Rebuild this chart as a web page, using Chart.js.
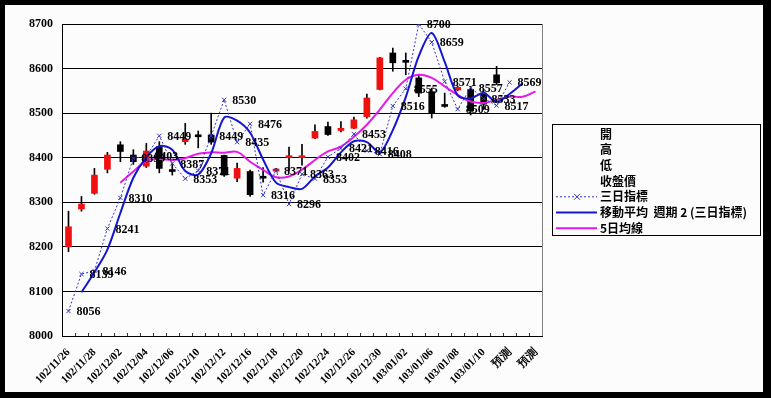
<!DOCTYPE html>
<html>
<head>
    <title>K線圖</title>
    <script src="https://cdn.jsdelivr.net/npm/chart.js"></script>
    <style>
        html, body { margin: 0; padding: 0; background: #000; }
        canvas { display: block; }
    </style>
</head>
<body>
    <canvas id="kChart" width="771" height="398"></canvas>

    <script>
        // dates (last three are forecast slots)
        const labels = ['102/11/26','102/11/27','102/11/28','102/11/29','102/12/02','102/12/03','102/12/04',
            '102/12/05','102/12/06','102/12/09','102/12/10','102/12/11','102/12/12','102/12/13','102/12/16',
            '102/12/17','102/12/18','102/12/19','102/12/20','102/12/23','102/12/24','102/12/25','102/12/26',
            '102/12/27','102/12/30','102/12/31','103/01/02','103/01/03','103/01/06','103/01/07','103/01/08',
            '103/01/09','103/01/10','103/01/13','預測','預測','預測'];

        const opens  = [8200,8285,8320,8374,8429,8406,8381,8425,8372,8436,8450,8451,8405,8354,8369,8356,8370,8400,8400,8444,8470,8461,8466,8492,8553,8635,8618,8579,8548,8516,8552,8553,8545,8586,null,null,null];
        const highs  = [8280,8313,8376,8412,8436,8418,8432,8436,8388,8477,8460,8500,8406,8388,8372,8378,8376,8424,8430,8474,8480,8481,8491,8543,8625,8646,8635,8586,8556,8545,8561,8560,8553,8605,null,null,null];
        const lows   = [8189,8280,8318,8366,8391,8385,8378,8366,8361,8430,8422,8430,8358,8346,8313,8345,8368,8370,8383,8443,8450,8458,8465,8489,8552,8594,8586,8537,8489,8513,8550,8496,8508,8564,null,null,null];
        const closes = [8245,8296,8361,8406,8414,8391,8415,8376,8369,8442,8447,8435,8361,8376,8317,8354,8372,8404,8404,8459,8452,8466,8485,8534,8624,8613,8614,8545,8500,8515,8558,8505,8520,8568,null,null,null];

        // 三日指標
        const indicator = [8056,8139,8146,8241,8310,8399,8403,8449,8387,8353,8371,8449,8530,8435,8476,8316,8371,8296,8363,8353,8402,8421,8453,8416,8408,8516,8555,8700,8659,8571,8509,8557,8533,8517,8569,null,null];
        // 移動平均 週期 2 (三日指標)
        const movingAvg = [null,8098,8143,8194,8276,8355,8401,8426,8418,8370,8362,8410,8490,8483,8456,8396,8344,8334,8330,8358,8378,8412,8437,8435,8412,8462,8536,8628,8680,8615,8540,8533,8545,8525,8543,8567,null];
        // 5日均線
        const ma5 = [null,null,null,null,8344,8369,8393,8397,8395,8399,8409,8412,8411,8413,8391,8373,8356,8358,8373,8395,8414,8425,8447,8474,8508,8545,8575,8586,8579,8560,8541,8526,8523,8530,8537,8537,8549];

        const legendItems = ['開', '高', '低', '收盤價', '三日指標', '移動平均  週期 2 (三日指標)', '5日均線'];

        const numFont = 'bold 12px "Liberation Serif", serif';
        const cjkFont = 'bold 12px "Noto Sans CJK TC", sans-serif';

        const bodyColors = opens.map((o, i) => closes[i] >= o ? '#f01010' : '#000000');

        const framePlugin = {
            id: 'frame',
            beforeDraw(chart) {
                const ctx = chart.ctx;
                ctx.save();
                ctx.fillStyle = '#000';
                ctx.fillRect(0, 0, chart.width, chart.height);
                ctx.fillStyle = '#fcfcfc';
                ctx.fillRect(5, 5, 758, 387);
                ctx.restore();
            },
            afterDraw(chart) {
                const ctx = chart.ctx;
                const area = chart.chartArea;
                const xs = chart.scales.x;
                ctx.save();
                // right edge of plot
                ctx.strokeStyle = '#808080';
                ctx.lineWidth = 1;
                ctx.beginPath();
                ctx.moveTo(Math.round(area.right) + 0.5, area.top);
                ctx.lineTo(Math.round(area.right) + 0.5, area.bottom);
                ctx.stroke();
                // inside tick marks between categories
                ctx.strokeStyle = '#333';
                const step = (area.right - area.left) / labels.length;
                for (let i = 1; i < labels.length; i++) {
                    const px = Math.round(xs.getPixelForValue(i) - step / 2) + 0.5;
                    ctx.beginPath();
                    ctx.moveTo(px, area.bottom);
                    ctx.lineTo(px, area.bottom - 3);
                    ctx.stroke();
                }

                // value labels next to the × points
                const meta = chart.getDatasetMeta(0);
                ctx.font = numFont;
                ctx.fillStyle = '#000';
                ctx.textBaseline = 'middle';
                ctx.textAlign = 'left';
                meta.data.forEach((pt, i) => {
                    if (indicator[i] == null) return;
                    ctx.fillText(String(indicator[i]), pt.x + 8, pt.y + 1);
                });

                // legend box
                const lx = 552.5, ly = 124.5, lw = 208, lh = 111;
                ctx.fillStyle = '#fcfcfc';
                ctx.fillRect(lx, ly, lw, lh);
                ctx.strokeStyle = '#000';
                ctx.lineWidth = 1;
                ctx.strokeRect(lx, ly, lw, lh);
                ctx.font = cjkFont;
                ctx.fillStyle = '#000';
                legendItems.forEach((txt, i) => {
                    const ty = 134 + i * 15.7;
                    ctx.fillText(txt, 600, ty);
                });
                // line samples
                let ty = 134 + 4 * 15.7;
                ctx.strokeStyle = '#3535c8';
                ctx.setLineDash([2, 2]);
                ctx.beginPath(); ctx.moveTo(556, ty); ctx.lineTo(597, ty); ctx.stroke();
                ctx.setLineDash([]);
                ctx.beginPath();
                ctx.moveTo(574, ty - 3); ctx.lineTo(580, ty + 3);
                ctx.moveTo(580, ty - 3); ctx.lineTo(574, ty + 3);
                ctx.stroke();
                ty = 134 + 5 * 15.7;
                ctx.strokeStyle = '#1515d0';
                ctx.lineWidth = 2;
                ctx.beginPath(); ctx.moveTo(556, ty); ctx.lineTo(597, ty); ctx.stroke();
                ty = 134 + 6 * 15.7;
                ctx.strokeStyle = '#e619e6';
                ctx.beginPath(); ctx.moveTo(556, ty); ctx.lineTo(597, ty); ctx.stroke();
                ctx.restore();
            }
        };

        const ctx = document.getElementById('kChart').getContext('2d');
        new Chart(ctx, {
            data: {
                labels: labels,
                datasets: [{
                    type: 'line',
                    label: '三日指標',
                    data: indicator,
                    borderColor: '#3535c8',
                    borderWidth: 1,
                    borderDash: [2, 2],
                    pointStyle: 'crossRot',
                    pointRadius: 3,
                    pointBorderColor: '#3535c8',
                    pointBorderWidth: 1,
                    tension: 0,
                    fill: false
                }, {
                    type: 'line',
                    label: '移動平均 週期 2 (三日指標)',
                    data: movingAvg,
                    borderColor: '#1515d0',
                    borderWidth: 2,
                    pointRadius: 0,
                    tension: 0.3,
                    fill: false
                }, {
                    type: 'line',
                    label: '5日均線',
                    data: ma5,
                    borderColor: '#e619e6',
                    borderWidth: 2,
                    pointRadius: 0,
                    tension: 0.4,
                    fill: false
                }, {
                    type: 'bar',
                    label: '實體',
                    data: opens.map((o, i) => o == null ? null : [o, closes[i]]),
                    backgroundColor: bodyColors,
                    barThickness: 6,
                    minBarLength: 2,
                    grouped: false
                }, {
                    type: 'bar',
                    label: '影線',
                    data: lows.map((l, i) => l == null ? null : [l, highs[i]]),
                    backgroundColor: '#000',
                    barThickness: 1,
                    grouped: false
                }]
            },
            options: {
                responsive: false,
                animation: false,
                layout: {
                    autoPadding: false,
                    padding: { left: 0, top: 24, right: 229, bottom: 0 }
                },
                plugins: {
                    legend: { display: false },
                    tooltip: { enabled: false }
                },
                scales: {
                    x: {
                        type: 'category',
                        offset: true,
                        grid: { display: false },
                        border: { color: '#000', width: 1 },
                        ticks: {
                            autoSkip: false,
                            minRotation: 45,
                            maxRotation: 45,
                            padding: 2,
                            color: '#000',
                            font: { family: '"Liberation Serif", serif', size: 11, weight: 'bold' },
                            callback: (val, idx) => idx % 2 === 0 ? labels[idx] : ''
                        },
                        afterFit: (scale) => { scale.height = 62; }
                    },
                    y: {
                        min: 8000,
                        max: 8700,
                        grid: { color: '#000', lineWidth: 1, drawTicks: false },
                        border: { color: '#000', width: 1 },
                        ticks: {
                            stepSize: 100,
                            padding: 9,
                            color: '#000',
                            font: { family: '"Liberation Serif", serif', size: 12, weight: 'bold' },
                            callback: (v) => String(v)
                        },
                        afterFit: (scale) => { scale.width = 62; }
                    }
                }
            },
            plugins: [framePlugin]
        });
    </script>
</body>
</html>
